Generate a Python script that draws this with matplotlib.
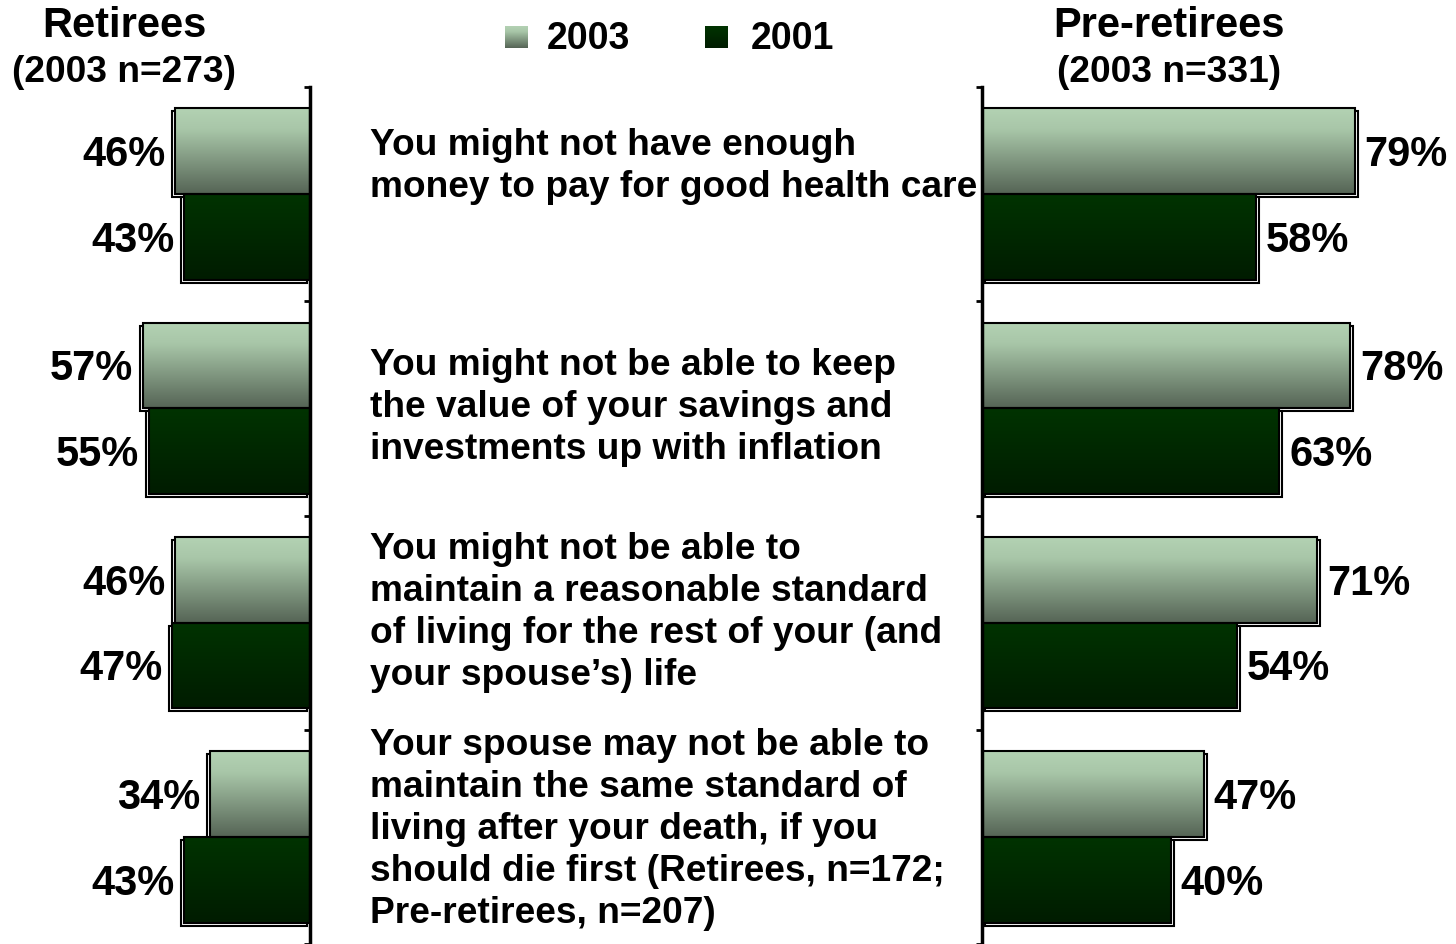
import numpy as np
import matplotlib
matplotlib.use("Agg")
import matplotlib.pyplot as plt
from matplotlib.colors import LinearSegmentedColormap
from matplotlib.patches import Rectangle
from matplotlib import transforms

plt.rcParams['font.family'] = ['Liberation Sans', 'DejaVu Sans']
plt.rcParams['font.weight'] = 'bold'

# datos
categorias = [
    "You might not have enough\nmoney to pay for good health care",
    "You might not be able to keep\nthe value of your savings and\ninvestments up with inflation",
    "You might not be able to\nmaintain a reasonable standard\nof living for the rest of your (and\nyour spouse\u2019s) life",
    "Your spouse may not be able to\nmaintain the same standard of\nliving after your death, if you\nshould die first (Retirees, n=172;\nPre-retirees, n=207)",
]
series = ["2003", "2001"]
retirees_2003 = [46, 57, 46, 34]
retirees_2001 = [43, 55, 47, 43]
pre_2003 = [79, 78, 71, 47]
pre_2001 = [58, 63, 54, 40]

# colores (degradado)
cmap_2003 = LinearSegmentedColormap.from_list("c03", [(0, "#b3d2b3"), (0.25, "#a8c6a8"), (1, "#556455")])
cmap_2001 = LinearSegmentedColormap.from_list("c01", [(0, "#003300"), (1, "#001c00")])
grad = np.linspace(0, 1, 256).reshape(-1, 1)

W, H = 1456, 945
fig = plt.figure(figsize=(W / 100, H / 100), dpi=100)
top = 88
axL = fig.add_axes([17 / W, 0, (310 - 17) / W, (H - top) / H])
axR = fig.add_axes([982 / W, 0, 472 / W, (H - top) / H])

y = np.arange(len(categorias))
ylo, yhi = len(categorias) - 0.5, -0.5


def dibujar(ax, v03, v01, dx):
    shadow_tr = transforms.offset_copy(ax.transData, fig, x=dx, y=-3, units='dots')
    for vals, cmap, off in [(v03, cmap_2003, -0.2), (v01, cmap_2001, 0.2)]:
        bars = ax.barh(y + off, vals, height=0.4, facecolor='none',
                       edgecolor='black', linewidth=1.5, zorder=3)
        for r, v in zip(bars, vals):
            x0, y0, w, h = r.get_x(), r.get_y(), r.get_width(), r.get_height()
            ax.add_patch(Rectangle((x0, y0), w, h, transform=shadow_tr,
                                   facecolor='white', edgecolor='black',
                                   linewidth=1.5, zorder=1, clip_on=False))
            ax.imshow(grad, cmap=cmap, aspect='auto', origin='upper',
                      extent=[x0, x0 + w, y0 + h, y0], zorder=2, clip_on=False)
            ax.annotate(f"{v}%", (x0 + w, y0 + h / 2), xytext=(-7 if dx < 0 else 7, -2),
                        textcoords='offset points', ha='right' if dx < 0 else 'left',
                        va='center', fontsize=30, fontweight='bold')


dibujar(axL, retirees_2003, retirees_2001, -3)
dibujar(axR, pre_2003, pre_2001, 3)

axL.set_xlim(100, 0)
axR.set_xlim(0, 100)
for ax in (axL, axR):
    ax.set_ylim(ylo, yhi)
    ax.set_xticks([])
    ax.set_yticks(np.arange(len(categorias) + 1) - 0.5)
    ax.set_yticklabels([])
    ax.patch.set_visible(False)
    for s in ax.spines.values():
        s.set_visible(False)

axL.spines['right'].set_visible(True)
axL.spines['right'].set_linewidth(2.5)
axL.yaxis.tick_right()
axL.tick_params(axis='y', direction='in', length=4, width=2)
axR.spines['left'].set_visible(True)
axR.spines['left'].set_linewidth(2.5)
axR.tick_params(axis='y', direction='out', length=4, width=2)

# textos de categorias
tr = transforms.blended_transform_factory(fig.transFigure, axL.transData)
ajuste = [-0.135, -0.01, -0.05, -0.04]
for i, txt in enumerate(categorias):
    fig.text(370 / W, i + ajuste[i], txt, transform=tr, ha='left', va='center',
             fontsize=26.7, fontweight='bold', linespacing=1.26)

# titulos
fig.text(124 / W, 1 - 26 / H, "Retirees", ha='center', va='center', fontsize=30, fontweight='bold')
fig.text(124 / W, 1 - 73 / H, "(2003 n=273)", ha='center', va='center', fontsize=26.7, fontweight='bold')
fig.text(1169 / W, 1 - 26 / H, "Pre-retirees", ha='center', va='center', fontsize=30, fontweight='bold')
fig.text(1169 / W, 1 - 73 / H, "(2003 n=331)", ha='center', va='center', fontsize=26.7, fontweight='bold')

# leyenda manual
for nombre, cmap, xs, xt in [(series[0], cmap_2003, 505, 547), (series[1], cmap_2001, 705, 751)]:
    lax = fig.add_axes([xs / W, 1 - 49 / H, 23 / W, 22 / H])
    lax.imshow(grad, cmap=cmap, aspect='auto')
    lax.axis('off')
    fig.text(xt / W, 1 - 39 / H, nombre, ha='left', va='center', fontsize=27, fontweight='bold')

fig.savefig("out.png", dpi=100)
